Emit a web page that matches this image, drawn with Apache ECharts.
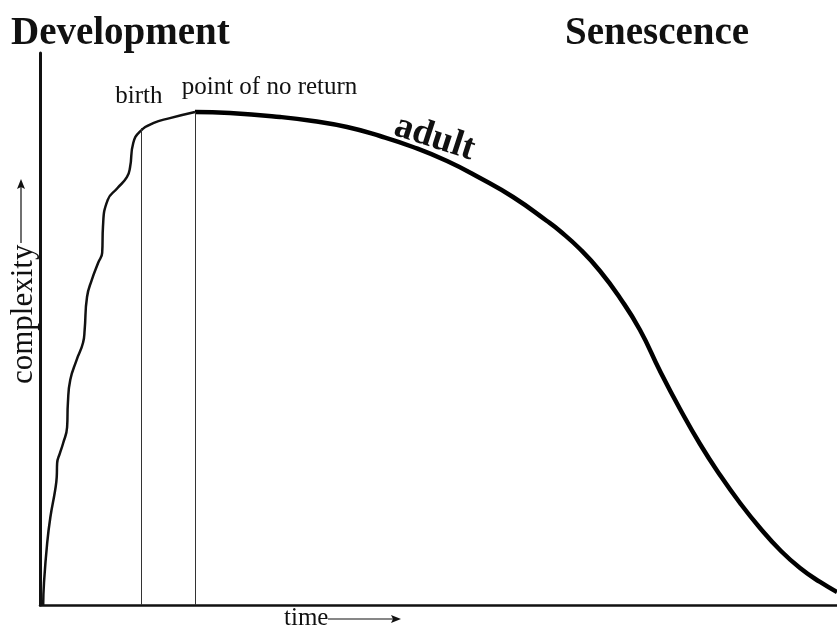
<!DOCTYPE html>
<html><head><meta charset="utf-8">
<script src="https://cdn.jsdelivr.net/npm/echarts@6/dist/echarts.min.js"></script>
<style>html,body{margin:0;padding:0;background:#fff}#c{width:837px;height:630px}</style>
</head><body><div id="c"></div>
<script>
// Development phase (thin line): time (0-100) vs complexity (0-100)
const devTime = [0.4,0.5,0.9,1.3,1.9,2.1,2.15,2.5,2.9,3.4,3.5,3.8,4.6,5.4,5.6,5.9,6.5,7.3,7.8,7.9,8.5,9.7,10.9,11.3,11.7,12.5,14.2,16.3,19.45];
const devComplexity = [0,4.0,11.2,15.9,20.8,23.2,25.7,27.5,29.3,32.2,36.6,40.8,44.4,47.5,49.8,55.8,58.9,62.0,63.8,68.5,73.4,75.5,77.5,79.3,83.7,85.7,87.3,88.2,89.31];
// Adult / senescence phase (thick line)
const adultTime = [19.45,23.84,30.11,34.25,38.52,42.66,46.8,51.07,55.21,59.35,63.61,65.24,67.75,70.26,72.77,75.28,77.79,80.3,82.81,85.32,87.83,90.34,92.85,95.36,97.87,100];
const adultComplexity = [89.31,89.13,88.41,87.68,86.59,84.96,82.97,80.43,77.36,73.91,69.57,67.75,64.49,60.51,55.62,49.82,42.39,35.51,29.17,23.55,18.48,13.95,9.96,6.7,4.17,2.36];
// Vertical markers
const markerNames = ['birth','point of no return'];
const markerTime = [12.7, 19.45];
const markerTop = [86.4, 89.3];
const markerLabelTime = [12.4, 28.8];
const markerLabelY = [92.2, 93.8];
// Phase titles
const phaseTitles = ['Development','Senescence'];
const adultLabel = {text:'adult', time:49.5, complexity:84.6};

const serif = '"Liberation Serif","Times New Roman",serif';
const chart = echarts.init(document.getElementById('c'));
const pairs = (xs, ys) => xs.map((x,i)=>[x, ys[i]]);

chart.setOption({
  animation:false,
  backgroundColor:'#fff',
  title:[
    {text:phaseTitles[0], left:6, top:9, textStyle:{fontFamily:serif, fontWeight:'bold', fontSize:39, color:'#111'}},
    {text:phaseTitles[1], left:560, top:9, textStyle:{fontFamily:serif, fontWeight:'bold', fontSize:39, color:'#111'}}
  ],
  grid:{left:40, right:0, top:53, bottom:25, containLabel:false},
  xAxis:{type:'value', min:0, max:100, axisLine:{lineStyle:{color:'#111', width:2.5}}, axisTick:{show:false}, axisLabel:{show:false}, splitLine:{show:false}},
  yAxis:{type:'value', min:0, max:100, axisLine:{show:true, lineStyle:{color:'#111', width:3}}, axisTick:{show:false}, axisLabel:{show:false}, splitLine:{show:false}},
  graphic:[
    {type:'text', left:284, top:606, style:{text:'time', font:'25px '+serif, fill:'#111'}},
    {type:'line', shape:{x1:328, y1:619, x2:394, y2:619}, style:{stroke:'#111', lineWidth:1.2}},
    {type:'polygon', shape:{points:[[401,619],[391,615],[393,619],[391,623]]}, style:{fill:'#111'}},
    {type:'text', x:8, y:384, rotation:Math.PI/2, style:{text:'complexity', font:'31px '+serif, fill:'#111', textVerticalAlign:'top'}},
    {type:'line', shape:{x1:21, y1:243, x2:21, y2:186}, style:{stroke:'#111', lineWidth:1.2}},
    {type:'polygon', shape:{points:[[21,179],[17,189],[21,187],[25,189]]}, style:{fill:'#111'}}
  ],
  series:[
    {type:'line', name:'development', data:pairs(devTime, devComplexity), smooth:0.5, showSymbol:false, symbol:'none',
     lineStyle:{color:'#111', width:2.5}, z:3,
     markLine:{silent:true, symbol:'none', lineStyle:{color:'#333', width:1, type:'solid'}, label:{show:false},
       data:markerTime.map((t,i)=>[{coord:[t,0]},{coord:[t,markerTop[i]]}])},
     markPoint:{symbol:'circle', symbolSize:0,
       data:markerNames.map((n,i)=>({coord:[markerLabelTime[i], markerLabelY[i]], value:n})),
       label:{show:true, position:'inside', formatter:p=>p.value, fontFamily:serif, fontSize:25, color:'#111'}}
    },
    {type:'line', name:'adult', data:pairs(adultTime, adultComplexity), smooth:0.5, showSymbol:false, symbol:'none',
     lineStyle:{color:'#000', width:4.5}, z:4, clip:false,
     markPoint:{symbol:'circle', symbolSize:0,
       data:[{coord:[adultLabel.time, adultLabel.complexity], value:adultLabel.text}],
       label:{show:true, position:'inside', rotate:-18, formatter:p=>p.value, fontFamily:serif, fontWeight:'bold', fontSize:37, color:'#111'}}
    }
  ]
});
</script></body></html>
